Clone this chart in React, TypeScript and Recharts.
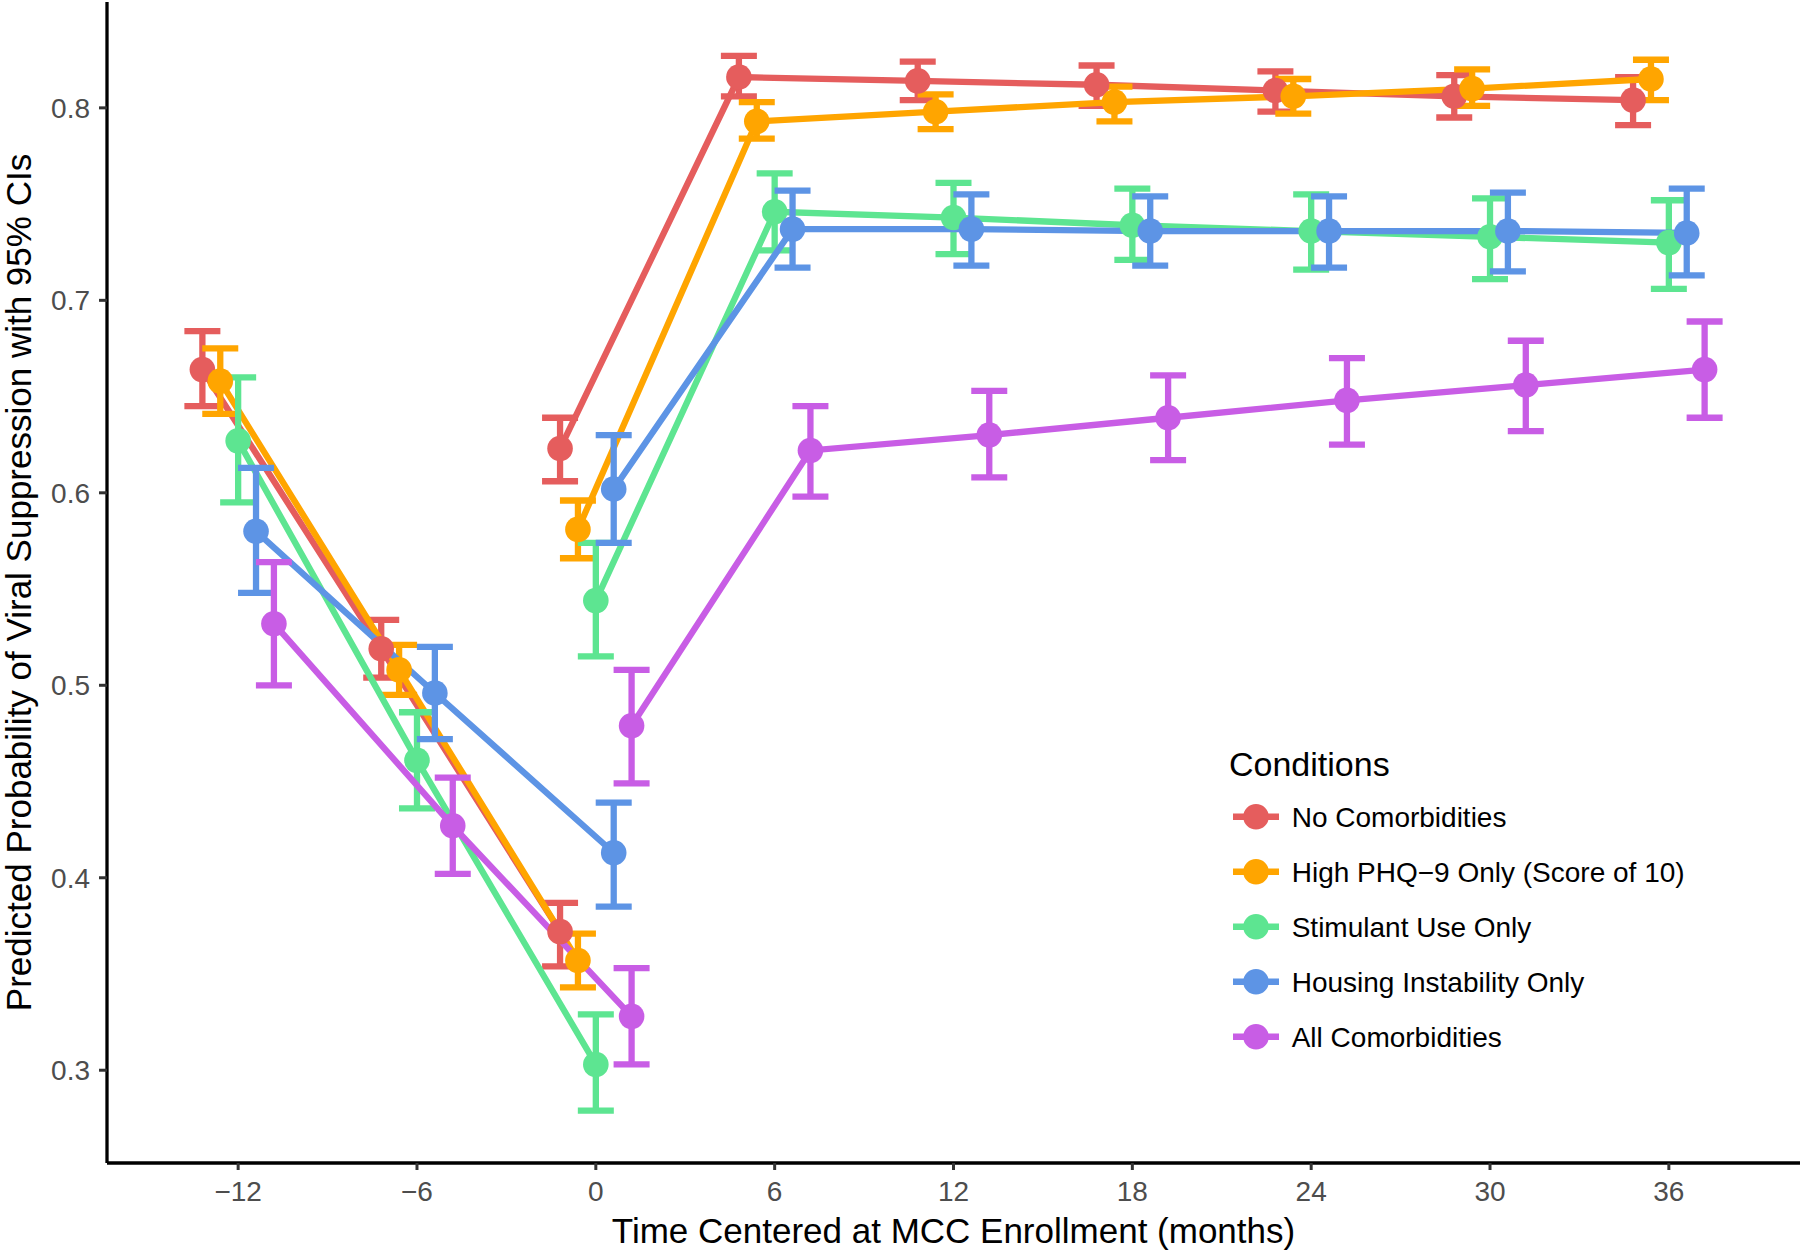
import React from 'react';
import { ComposedChart, Line, XAxis, YAxis, ErrorBar, Label } from 'recharts';

const FONT = '"Liberation Sans", Arial, Helvetica, sans-serif';

// groups, colours and the horizontal dodge used for each group (months)
const conditions = [
  'No Comorbidities',
  'High PHQ\u22129 Only (Score of 10)',
  'Stimulant Use Only',
  'Housing Instability Only',
  'All Comorbidities',
];
const colors = ['#E55D5D', '#FFA500', '#5DE591', '#5D94E5', '#C85DE5'];
const dodge = [-1.2, -0.6, 0, 0.6, 1.2];

const preMonths = [-12, -6, 0];
const postMonths = [0, 6, 12, 18, 24, 30, 36];

const xTicks = [-12, -6, 0, 6, 12, 18, 24, 30, 36];
const yTicks = [0.3, 0.4, 0.5, 0.6, 0.7, 0.8];

// No Comorbidities
const noneEstPre = [0.664, 0.519, 0.372];
const noneLoPre = [0.645, 0.504, 0.354];
const noneHiPre = [0.684, 0.534, 0.387];
const noneEstPost = [0.623, 0.816, 0.814, 0.812, 0.809, 0.806, 0.804];
const noneLoPost = [0.606, 0.806, 0.804, 0.801, 0.798, 0.795, 0.791];
const noneHiPost = [0.639, 0.827, 0.824, 0.822, 0.819, 0.817, 0.816];

// High PHQ-9 only
const phqEstPre = [0.658, 0.508, 0.357];
const phqLoPre = [0.641, 0.495, 0.343];
const phqHiPre = [0.675, 0.521, 0.371];
const phqEstPost = [0.581, 0.793, 0.798, 0.803, 0.806, 0.81, 0.815];
const phqLoPost = [0.566, 0.784, 0.789, 0.793, 0.797, 0.801, 0.804];
const phqHiPost = [0.596, 0.803, 0.807, 0.811, 0.815, 0.82, 0.825];

// Stimulant use only
const stimEstPre = [0.627, 0.461, 0.303];
const stimLoPre = [0.595, 0.436, 0.279];
const stimHiPre = [0.66, 0.486, 0.329];
const stimEstPost = [0.544, 0.746, 0.743, 0.739, 0.736, 0.733, 0.73];
const stimLoPost = [0.515, 0.726, 0.724, 0.721, 0.716, 0.711, 0.706];
const stimHiPost = [0.574, 0.766, 0.761, 0.758, 0.755, 0.753, 0.752];

// Housing instability only
const houseEstPre = [0.58, 0.496, 0.413];
const houseLoPre = [0.548, 0.472, 0.385];
const houseHiPre = [0.613, 0.52, 0.439];
const houseEstPost = [0.602, 0.737, 0.737, 0.736, 0.736, 0.736, 0.735];
const houseLoPost = [0.574, 0.717, 0.718, 0.718, 0.717, 0.715, 0.713];
const houseHiPost = [0.63, 0.757, 0.755, 0.754, 0.754, 0.756, 0.758];

// All comorbidities
const allEstPre = [0.532, 0.427, 0.328];
const allLoPre = [0.5, 0.402, 0.303];
const allHiPre = [0.564, 0.452, 0.353];
const allEstPost = [0.479, 0.622, 0.63, 0.639, 0.648, 0.656, 0.664];
const allLoPost = [0.449, 0.598, 0.608, 0.617, 0.625, 0.632, 0.639];
const allHiPost = [0.508, 0.645, 0.653, 0.661, 0.67, 0.679, 0.689];

const toRows = (months: number[], est: number[], lo: number[], hi: number[], off: number) =>
  months.map((m, i) => ({ x: m + off, y: est[i], err: [est[i] - lo[i], hi[i] - est[i]] }));

const raw = [
  [noneEstPre, noneLoPre, noneHiPre, noneEstPost, noneLoPost, noneHiPost],
  [phqEstPre, phqLoPre, phqHiPre, phqEstPost, phqLoPost, phqHiPost],
  [stimEstPre, stimLoPre, stimHiPre, stimEstPost, stimLoPost, stimHiPost],
  [houseEstPre, houseLoPre, houseHiPre, houseEstPost, houseLoPost, houseHiPost],
  [allEstPre, allLoPre, allHiPre, allEstPost, allLoPost, allHiPost],
];

const series = raw.map((r, i) => ({
  name: conditions[i],
  color: colors[i],
  pre: toRows(preMonths, r[0], r[1], r[2], dodge[i]),
  post: toRows(postMonths, r[3], r[4], r[5], dodge[i]),
}));

const fmtX = (v: number) => (v < 0 ? `\u2212${Math.abs(v)}` : `${v}`);

const ConditionsLegend = () => (
  <svg
    width={560}
    height={330}
    style={{ position: 'absolute', left: 1220, top: 730, fontFamily: FONT }}
  >
    <text x={9} y={46} fontSize={34} fill="#000">Conditions</text>
    {series.map((s, i) => {
      const cy = 86.7 + i * 55;
      return (
        <g key={s.name}>
          <line x1={13} x2={59} y1={cy} y2={cy} stroke={s.color} strokeWidth={6.5} />
          <circle cx={36} cy={cy} r={12.8} fill={s.color} />
          <text x={71.7} y={cy + 10.4} fontSize={28} fill="#000">{s.name}</text>
        </g>
      );
    })}
  </svg>
);

export default function App() {
  return (
    <div style={{ position: 'absolute', left: 0, top: 0, width: 1800, height: 1250, background: '#fff' }}>
      <ComposedChart
        width={1800}
        height={1250}
        margin={{ top: 2, right: 0, bottom: 0, left: 7 }}
        style={{ fontFamily: FONT }}
      >
        <XAxis
          dataKey="x"
          type="number"
          domain={[-16.4, 40.4]}
          ticks={xTicks}
          tickFormatter={fmtX}
          allowDataOverflow
          height={87}
          tickSize={7}
          tickMargin={11}
          axisLine={{ stroke: '#000', strokeWidth: 3.3 }}
          tickLine={{ stroke: '#333', strokeWidth: 3 }}
          tick={{ fontSize: 28, fill: '#4D4D4D', fontFamily: FONT }}
        >
          <Label
            content={({ viewBox }: any) => (
              <text
                x={viewBox.x + viewBox.width / 2}
                y={1243}
                textAnchor="middle"
                fontSize={35}
                fill="#000"
                fontFamily={FONT}
              >
                Time Centered at MCC Enrollment (months)
              </text>
            )}
          />
        </XAxis>
        <YAxis
          type="number"
          domain={[0.2518, 0.855]}
          ticks={yTicks}
          tickFormatter={(v: number) => v.toFixed(1)}
          allowDataOverflow
          width={100}
          tickSize={8}
          tickMargin={9}
          axisLine={{ stroke: '#000', strokeWidth: 3.3 }}
          tickLine={{ stroke: '#333', strokeWidth: 3 }}
          tick={{ fontSize: 28, fill: '#4D4D4D', fontFamily: FONT }}
        >
          <Label
            content={({ viewBox }: any) => {
              const cy = viewBox.y + viewBox.height / 2;
              return (
                <text
                  x={0}
                  y={0}
                  transform={`translate(31, ${cy}) rotate(-90)`}
                  textAnchor="middle"
                  fontSize={35}
                  fill="#000"
                  fontFamily={FONT}
                >
                  Predicted Probability of Viral Suppression with 95% CIs
                </text>
              );
            }}
          />
        </YAxis>
        {series.flatMap((s) =>
          [s.pre, s.post].map((rows, k) => (
            <Line
              key={`${s.name}-${k}`}
              data={rows}
              dataKey="y"
              type="linear"
              stroke={s.color}
              strokeWidth={6.3}
              dot={{ r: 12.8, fill: s.color, stroke: 'none' }}
              activeDot={false}
              isAnimationActive={false}
              legendType="none"
            >
              <ErrorBar dataKey="err" direction="y" width={18} stroke={s.color} strokeWidth={6.3} />
            </Line>
          ))
        )}
      </ComposedChart>
      <ConditionsLegend />
    </div>
  );
}
